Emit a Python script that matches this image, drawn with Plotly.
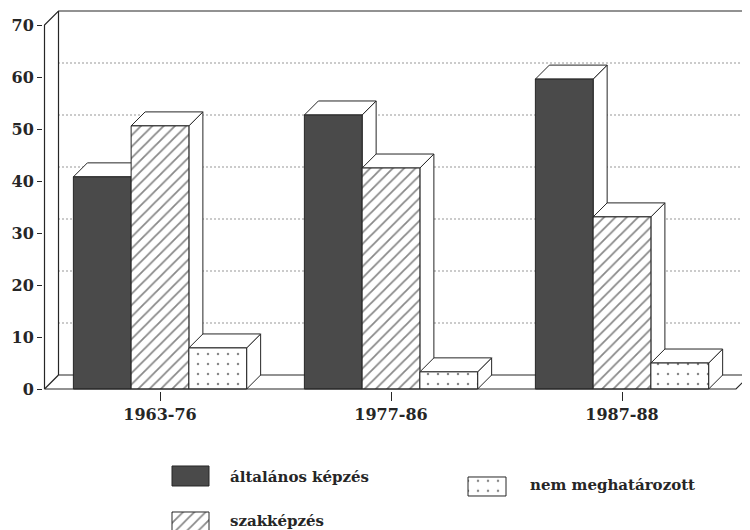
import plotly.graph_objects as go

# ---- data ----
categories = ["1963-76", "1977-86", "1987-88"]
altalanos = [40.8, 52.7, 59.6]   # általános képzés
szak = [50.6, 42.5, 33.1]        # szakképzés
nem = [7.9, 3.3, 5.0]            # nem meghatározott
series_names = ["általános képzés", "szakképzés", "nem meghatározott"]
y_ticks = [0, 10, 20, 30, 40, 50, 60, 70]
grid_vals = [10, 20, 30, 40, 50, 60]

# ---- geometry / style ----
PX_X = 231.0
PX_Y = 5.2
L = -0.5065
R = 2.554
AX = -0.5
DX = 14 / PX_X
DY = 14 / PX_Y
YB = -0.4
YT = YB + (391.1 - 9) / PX_Y
BAR_W = 0.25
XFRONT_R = R - DX
FONT = "DejaVu Serif"
INK = "#262626"
DARK = "#4a4a4a"
OFF = 8  # page body margin offset

series = [altalanos, szak, nem]
patterns = [
    dict(shape=""),
    dict(shape="/", fgcolor="#111", bgcolor="white", size=8, solidity=0.22),
    dict(shape=".", fgcolor="#111", bgcolor="white", size=10, solidity=0.05),
]
fills = [DARK, "white", "white"]

fig = go.Figure()
for k, (vals, name) in enumerate(zip(series, series_names)):
    fig.add_trace(go.Bar(
        x=list(range(len(categories))), y=vals, name=name, showlegend=False,
        marker=dict(color=fills[k], line=dict(color=INK, width=1), pattern=patterns[k]),
        xaxis="x", yaxis="y",
    ))

shapes = []
line = dict(color=INK, width=1.2)
# back wall gridlines
for g in grid_vals:
    shapes.append(dict(type="line", xref="x", yref="y", x0=AX + DX, x1=R, y0=g + DY, y1=g + DY,
                       line=dict(color="#333", width=1.2, dash="1px,3px"), layer="below"))
# back wall left edge & floor back edge
shapes.append(dict(type="line", xref="x", yref="y", x0=AX + DX, x1=AX + DX, y0=DY, y1=70 + DY,
                   line=line, layer="below"))
shapes.append(dict(type="line", xref="x", yref="y", x0=AX + DX, x1=R, y0=DY, y1=DY,
                   line=line, layer="below"))
shapes.append(dict(type="line", xref="x", yref="y", x0=AX, x1=AX + DX, y0=0, y1=DY,
                   line=line, layer="below"))
# 3D faces of the bars
for i in range(len(categories)):
    for k, vals in enumerate(series):
        v = vals[i]
        x0 = i - 0.375 + k * BAR_W
        x1 = x0 + BAR_W
        side = f"M{x1},0 L{x1},{v} L{x1 + DX},{v + DY} L{x1 + DX},{DY} Z"
        top = f"M{x0},{v} L{x0 + DX},{v + DY} L{x1 + DX},{v + DY} L{x1},{v} Z"
        for p in (side, top):
            shapes.append(dict(type="path", xref="x", yref="y", path=p, fillcolor="white",
                               line=dict(color=INK, width=1), layer="below"))
# front axis, top edge, floor front
shapes.append(dict(type="path", xref="x", yref="y",
                   path=f"M{AX},0 L{AX},70 L{AX + DX},{70 + DY} L{R},{70 + DY}",
                   line=line, layer="above"))
shapes.append(dict(type="path", xref="x", yref="y",
                   path=f"M{AX},0 L{XFRONT_R},0 L{R},{DY}",
                   line=line, layer="above"))

# ---- custom legend (screen-pixel coordinates in a helper subplot) ----
legend_boxes = [(172, 209, 466, 486), (172, 209, 512, 532), (468, 506, 477, 496)]
legend_text_pos = [(228, 477), (228, 521), (528, 485)]
for k, (bx0, bx1, by0, by1) in enumerate(legend_boxes):
    fig.add_trace(go.Scatter(
        x=[bx0, bx1, bx1, bx0, bx0], y=[by0, by0, by1, by1, by0], mode="lines",
        fill="toself", fillcolor=fills[k], fillpattern=patterns[k] if k else None,
        line=dict(color=INK, width=1), showlegend=False, hoverinfo="skip",
        xaxis="x2", yaxis="y2",
    ))
annotations = []
for k, (tx, ty) in enumerate(legend_text_pos):
    annotations.append(dict(x=tx, y=ty, xref="x2", yref="y2", text=series_names[k],
                            showarrow=False, xanchor="left", yanchor="middle",
                            font=dict(family=FONT, size=15, color=INK, weight="bold")))

fig.update_layout(
    width=750, height=530,
    margin=dict(l=43 - OFF, r=OFF, t=9 - OFF, b=OFF),
    paper_bgcolor="white", plot_bgcolor="white",
    barmode="group", bargap=0.25, bargroupgap=0,
    showlegend=False,
    shapes=shapes, annotations=annotations,
    xaxis=dict(domain=[0, 1], range=[L, R], tickvals=list(range(len(categories))),
               ticktext=categories, ticks="outside", ticklen=9, tickcolor=INK, tickwidth=1.2,
               showgrid=False, zeroline=False, showline=False, anchor="y",
               tickfont=dict(family=FONT, size=16, color=INK, weight="bold")),
    yaxis=dict(domain=[0.2666, 1], range=[YB, YT], tickvals=y_ticks, ticks="outside",
               ticklen=5, tickcolor=INK, tickwidth=1.2, showgrid=False, zeroline=False,
               showline=False, anchor="x",
               tickfont=dict(family=FONT, size=16, color=INK, weight="bold")),
    xaxis2=dict(domain=[0, 1], range=[43, 750], visible=False, anchor="y2"),
    yaxis2=dict(domain=[0, 0.2], range=[530, 425.8], visible=False, anchor="x2"),
)

fig.write_html("out.html")
